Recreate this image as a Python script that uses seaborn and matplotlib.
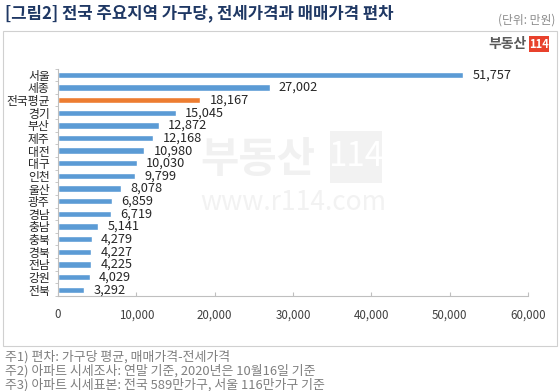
import matplotlib
matplotlib.use("Agg")
import matplotlib.pyplot as plt
import pandas as pd
import seaborn as sns
from matplotlib.patches import Rectangle
from matplotlib.ticker import FuncFormatter, FixedLocator

# 데이터
regions = ["서울", "세종", "전국평균", "경기", "부산", "제주", "대전", "대구", "인천",
           "울산", "광주", "경남", "충남", "충북", "경북", "전남", "강원", "전북"]
gaps = [51757, 27002, 18167, 15045, 12872, 12168, 10980, 10030, 9799,
        8078, 6859, 6719, 5141, 4279, 4227, 4225, 4029, 3292]
x_ticks = [0, 10000, 20000, 30000, 40000, 50000, 60000]

notes = [
    "주1) 편차: 가구당 평균, 매매가격-전세가격",
    "주2) 아파트 시세조사: 연말 기준, 2020년은 10월16일 기준",
    "주3) 아파트 시세표본: 전국 589만가구, 서울 116만가구 기준",
]

sns.set_style("white")
plt.rcParams['font.family'] = ['Noto Sans CJK KR', 'DejaVu Sans']

df = pd.DataFrame({"지역": regions, "편차": gaps})
colors = {r: ("#ED7D31" if r == "전국평균" else "#5B9BD5") for r in regions}

fig = plt.figure(figsize=(5.6, 3.91), dpi=100)
ax = fig.add_axes([58/560, 1 - 296/391, 470/560, (296 - 68.5)/391])

# 워터마크 (막대 뒤)
fig.text(258/560, 1 - 160/391, "부동산", fontsize=30, fontweight="bold", color="#f1f1f1",
         va="center", ha="center", zorder=0)
fig.patches.append(Rectangle((330/560, 1 - 183/391), 52/560, 52/391, transform=fig.transFigure,
                             facecolor="#f2f2f2", edgecolor="none", zorder=0))
fig.text(356/560, 1 - 157/391, "114", fontsize=24, color="white",
         va="center", ha="center", zorder=0)
fig.text(293/560, 1 - 202/391, "www.r114.com", fontsize=19, color="#f2f2f2",
         va="center", ha="center", zorder=0)
ax.patch.set_alpha(0)

sns.barplot(data=df, y="지역", x="편차", hue="지역", palette=colors,
            order=regions, width=0.5, legend=False, ax=ax, saturation=1)

# 값 라벨
for i, v in enumerate(gaps):
    ax.text(v + 1200, i, f"{v:,}", va="center", ha="left", fontsize=9.2, color="#262626")

ax.set_xlim(0, 60000)
ax.set_ylim(len(regions) - 0.5, -0.5)
ax.xaxis.set_major_locator(FixedLocator(x_ticks))
ax.xaxis.set_major_formatter(FuncFormatter(lambda v, p: f"{int(v):,}"))
ax.tick_params(axis="x", direction="in", length=3, color="#bfbfbf", labelsize=8.3,
               labelcolor="#404040", pad=9, bottom=True)
ax.tick_params(axis="y", length=0, labelsize=8.5, labelcolor="#262626", pad=6)
ax.set_yticks([i + 0.5 for i in range(-1, len(regions))], minor=True)
ax.tick_params(axis="y", which="minor", direction="out", length=2.5, color="#bfbfbf", left=True)
ax.set_xlabel("")
ax.set_ylabel("")
for s in ["top", "right"]:
    ax.spines[s].set_visible(False)
for s in ["left", "bottom"]:
    ax.spines[s].set_color("#bfbfbf")
    ax.spines[s].set_linewidth(0.8)

# 바깥 테두리
fig.patches.append(Rectangle((3/560, 1 - 346/391), 554/560, 315/391, transform=fig.transFigure,
                             fill=False, edgecolor="#d0d0d0", linewidth=0.8))

# 제목
fig.text(5/560, 1 - 13/391, "[그림2] 전국 주요지역 가구당, 전세가격과 매매가격 편차",
         fontsize=12, fontweight="bold", color="#1F3864", va="center", ha="left")
fig.text(555/560, 1 - 20/391, "(단위: 만원)", fontsize=8.5, color="#8c8c8c",
         va="center", ha="right")

# 로고
fig.text(527/560, 1 - 44/391, "부동산", fontsize=10, fontweight="bold", color="#595959",
         va="center", ha="right")
fig.patches.append(Rectangle((529/560, 1 - 52/391), 20/560, 16/391, transform=fig.transFigure,
                             facecolor="#E8412C", edgecolor="none"))
fig.text(539/560, 1 - 44/391, "114", fontsize=8, fontweight="bold", color="white",
         va="center", ha="center")

# 주석
for k, n in enumerate(notes):
    fig.text(5/560, 1 - (357 + 14*k)/391, n, fontsize=9.3, color="#7f7f7f",
             va="center", ha="left")

fig.savefig("out.png", dpi=100)
